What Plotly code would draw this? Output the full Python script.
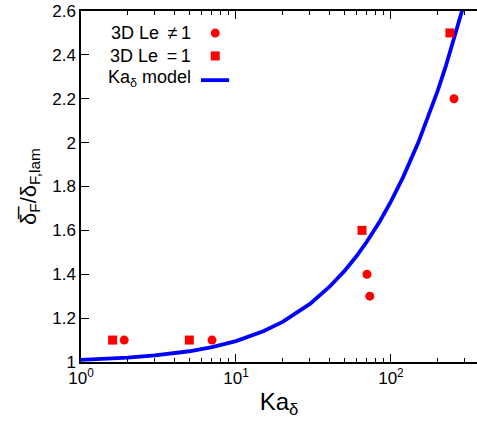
import plotly.graph_objects as go

# Flame thickening data: 3D DNS with non-unity and unity Lewis number
ka_le_neq1 = [1.9, 7.0, 70.0, 73.0, 255.0]
thick_le_neq1 = [1.1, 1.1, 1.4, 1.3, 2.2]

ka_le_eq1 = [1.6, 5.0, 65.0, 240.0]
thick_le_eq1 = [1.1, 1.1, 1.6, 2.5]

# Ka_delta model curve
ka_model = [1, 1.5, 2, 3, 5, 7, 10, 15, 20, 30, 40, 50, 60, 70, 85, 100, 120,
            150, 175, 200, 225, 250, 275, 300, 350]
thick_model = [1.010, 1.015, 1.020, 1.030, 1.049, 1.068, 1.095, 1.140, 1.183,
               1.265, 1.342, 1.414, 1.483, 1.549, 1.643, 1.732, 1.844,
               2.000, 2.121, 2.236, 2.345, 2.449, 2.550, 2.646, 2.828]

x_major = [1, 10, 100]
x_major_text = ["10<sup>0</sup>", "10<sup>1</sup>", "10<sup>2</sup>"]
x_minor = [2, 3, 4, 5, 6, 7, 8, 9, 20, 30, 40, 50, 60, 70, 80, 90, 200, 300]
y_ticks = [1.0, 1.2, 1.4, 1.6, 1.8, 2.0, 2.2, 2.4, 2.6]

legend_labels = ["3D Le \u2009≠\u20091", "3D Le \u2009=\u20091", "Ka<sub>δ</sub> model"]

RED = "#ff0000"
BLUE = "#0000ff"
FONT = "Liberation Sans, Arial, sans-serif"

fig = go.Figure()
fig.add_trace(go.Scatter(x=ka_model, y=thick_model, mode="lines",
                         line=dict(color=BLUE, width=3.8), name=legend_labels[2]))
fig.add_trace(go.Scatter(x=ka_le_neq1, y=thick_le_neq1, mode="markers",
                         marker=dict(symbol="circle", size=9, color=RED),
                         name=legend_labels[0]))
fig.add_trace(go.Scatter(x=ka_le_eq1, y=thick_le_eq1, mode="markers",
                         marker=dict(symbol="square", size=9, color=RED),
                         name=legend_labels[1]))

# Legend drawn inside the frame: right-aligned text with the key on its right
rows_y = [0.937, 0.872, 0.808]
text_x = 0.284
key_x = 0.339
for lab, yy in zip(legend_labels, rows_y):
    fig.add_annotation(x=text_x, y=yy, xref="paper", yref="paper", text=lab,
                       showarrow=False, xanchor="right", yanchor="middle",
                       font=dict(size=18, color="black", family=FONT))
fig.add_shape(type="circle", xref="paper", yref="paper",
              xsizemode="pixel", ysizemode="pixel",
              xanchor=key_x, yanchor=rows_y[0], x0=-4.5, x1=4.5, y0=-4.5, y1=4.5,
              fillcolor=RED, line=dict(width=0))
fig.add_shape(type="rect", xref="paper", yref="paper",
              xsizemode="pixel", ysizemode="pixel",
              xanchor=key_x, yanchor=rows_y[1], x0=-4.5, x1=4.5, y0=-4.5, y1=4.5,
              fillcolor=RED, line=dict(width=0))
fig.add_shape(type="line", xref="paper", yref="paper",
              x0=0.303, x1=0.374, y0=rows_y[2] - 0.005, y1=rows_y[2] - 0.005,
              line=dict(color=BLUE, width=3.8))

fig.update_layout(
    width=477, height=421,
    margin=dict(l=81, r=0, t=11, b=59),
    paper_bgcolor="white", plot_bgcolor="white",
    showlegend=False,
    font=dict(family=FONT, size=17, color="black"),
    xaxis=dict(
        type="log", range=[0, 2.555],
        tickmode="array", tickvals=x_major, ticktext=x_major_text,
        ticks="inside", ticklen=8, tickwidth=1, tickcolor="black",
        minor=dict(tickmode="array", tickvals=x_minor, ticks="inside",
                   ticklen=4, tickcolor="black", showgrid=False),
        showline=True, linecolor="black", linewidth=1.5, mirror="ticks",
        showgrid=False, zeroline=False,
        tickfont=dict(size=17),
        title=dict(text="Ka<sub>δ</sub>", font=dict(size=24), standoff=6),
    ),
    yaxis=dict(
        range=[1.0, 2.6],
        tickmode="array", tickvals=y_ticks,
        ticks="inside", ticklen=8, tickwidth=1, tickcolor="black",
        showline=True, linecolor="black", linewidth=1.5, mirror=False,
        showgrid=False, zeroline=False,
        tickfont=dict(size=17),
        title=dict(text="δ\u0305<sub>F</sub>/δ<sub>F,lam</sub>",
                   font=dict(size=22), standoff=10),
    ),
)

fig.write_html("out.html")
